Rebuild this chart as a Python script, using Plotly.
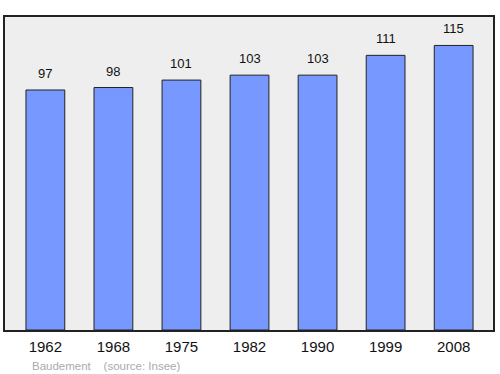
import plotly.graph_objects as go

years = ["1962", "1968", "1975", "1982", "1990", "1999", "2008"]
population = [97, 98, 101, 103, 103, 111, 115]

fig = go.Figure()
fig.add_trace(go.Bar(
    x=years, y=population,
    marker=dict(color="#7799ff", line=dict(color="#222222", width=1)),
    width=0.57,
    hoverinfo="skip",
))

for i, v in enumerate(population):
    fig.add_annotation(x=i, y=v, xref="x", yref="y", text=str(v), showarrow=False,
                       yanchor="bottom", yshift=7,
                       font=dict(family="Liberation Sans, Arial", size=13, color="#111111"))

fig.add_annotation(xref="paper", yref="paper", x=0.052, y=-0.09,
                   xanchor="left", yanchor="top", showarrow=False,
                   text="Baudement&nbsp;&nbsp;&nbsp;&nbsp;(source: Insee)",
                   font=dict(family="Liberation Sans, Arial", size=11.5, color="#aaaaaa"))

fig.update_layout(
    width=500, height=374,
    margin=dict(l=5, r=5, t=17, b=44),
    paper_bgcolor="white",
    plot_bgcolor="#eeeeee",
    showlegend=False,
    xaxis=dict(type="category", range=[-0.593, 6.578],
               showline=True, linecolor="#222222", linewidth=1.5, mirror=True,
               ticks="outside", ticklen=2, tickcolor="rgba(0,0,0,0)", showgrid=False,
               tickfont=dict(family="Liberation Sans, Arial", size=15, color="#111111")),
    yaxis=dict(range=[0, 126.5], showline=True, linecolor="#222222", linewidth=1.5,
               mirror=True, showticklabels=False, ticks="", showgrid=False,
               zeroline=False),
)

fig.write_html("out.html")
